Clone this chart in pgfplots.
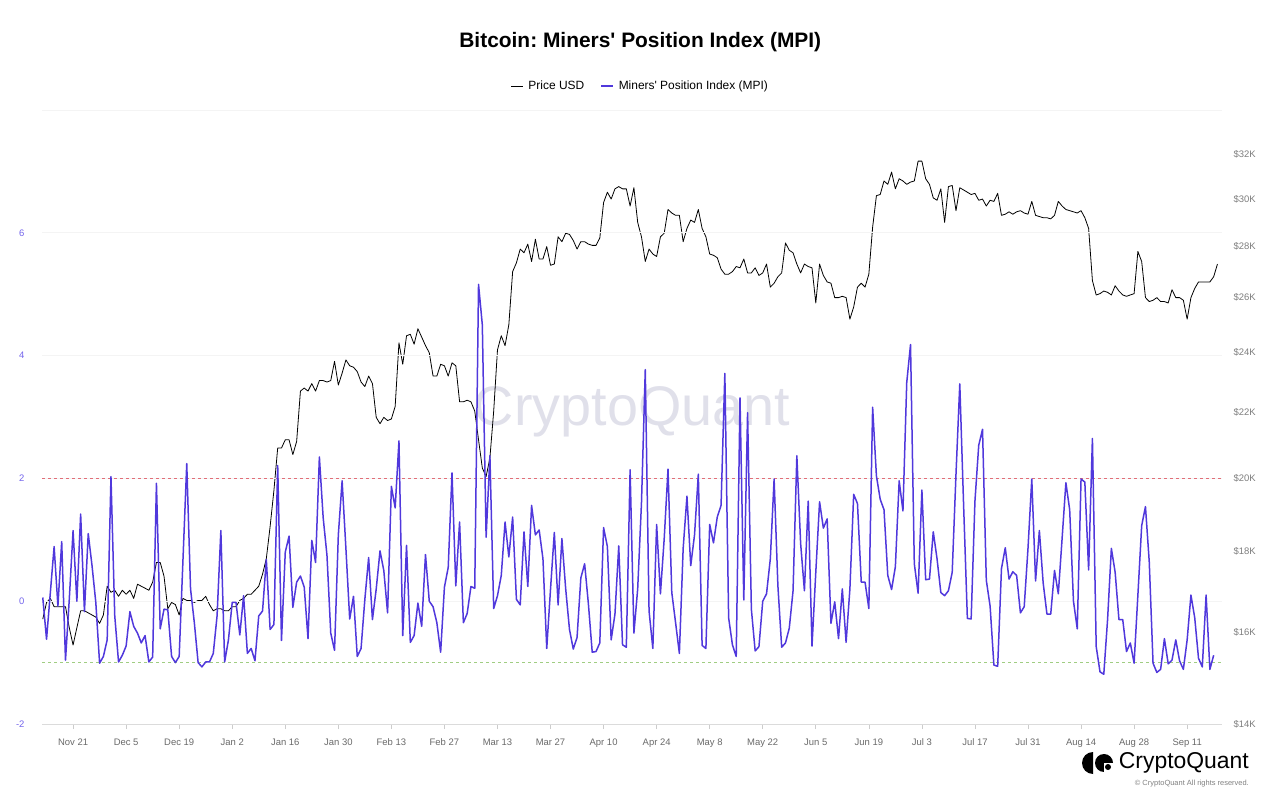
\documentclass[border=0pt]{standalone}
\usepackage{fontspec}
\setmainfont{Liberation Sans}
\usepackage{pgfplots}
\pgfplotsset{compat=1.18}
\frenchspacing

\definecolor{mpi}{RGB}{80,56,220}
\definecolor{mpitick}{RGB}{115,100,235}
\definecolor{pricetick}{RGB}{125,125,125}
\definecolor{datetick}{RGB}{105,105,105}
\definecolor{wmark}{RGB}{224,224,234}
\definecolor{hiline}{RGB}{225,110,120}
\definecolor{loline}{RGB}{160,205,130}

\newcommand{\ticksize}{\fontsize{9.5}{11}\selectfont}

\begin{document}
\begin{tikzpicture}
\useasboundingbox (-42bp,-82bp) rectangle (1238bp,724bp);

% right axis: price, log scale
\begin{axis}[
    scale only axis,
    width=1180bp, height=614bp,
    xmin=-8.2, xmax=303.2,
    ymode=log, ymin=14000, ymax=34150,
    hide x axis,
    axis y line*=right,
    axis line style={draw=none},
    ytick={14000,16000,18000,20000,22000,24000,26000,28000,30000,32000},
    yticklabels={\$14K,\$16K,\$18K,\$20K,\$22K,\$24K,\$26K,\$28K,\$30K,\$32K},
    yticklabel style={font=\ticksize, text=pricetick, xshift=8bp},
    ytick style={draw=none},
]
\node[font=\fontsize{56}{60}\selectfont, text=wmark] at (rel axis cs:0.5,0.508) {CryptoQuant};
\addplot[black, line width=0.8bp, line join=round, no markers] coordinates {
(-8,16300)(-7,16700)(-6,16800)(-5,16600)(-4,16600)(-3,16600)(-2,16600)(-1,16100)(0,15700)(1,16100)
(2,16500)(3,16500)(4,16450)(5,16400)(6,16350)(7,16200)(8,16400)(9,17100)(10,16950)(11,17000)
(12,16850)(13,17000)(14,16900)(15,17000)(16,16800)(17,17150)(18,17100)(19,17050)(20,17000)(21,17200)
(22,17700)(23,17700)(24,17350)(25,16550)(26,16700)(27,16650)(28,16400)(29,16800)(30,16750)(31,16750)
(32,16700)(33,16750)(34,16750)(35,16850)(36,16650)(37,16500)(38,16550)(39,16550)(40,16500)(41,16500)
(42,16600)(43,16600)(44,16750)(45,16800)(46,16900)(47,16900)(48,17000)(49,17100)(50,17400)(51,17800)
(52,18650)(53,19650)(54,20900)(55,20900)(56,21150)(57,21150)(58,20700)(59,21100)(60,22700)(61,22800)
(62,22700)(63,22950)(64,22700)(65,23050)(66,23050)(67,23000)(68,23050)(69,23700)(70,22900)(71,23300)
(72,23750)(73,23550)(74,23500)(75,23350)(76,23000)(77,22850)(78,23200)(79,22950)(80,21850)(81,21650)
(82,21850)(83,21750)(84,21800)(85,22200)(86,24350)(87,23600)(88,24600)(89,24650)(90,24300)(91,24850)
(92,24550)(93,24250)(94,24000)(95,23200)(96,23200)(97,23600)(98,23550)(99,23200)(100,23650)(101,23550)
(102,22350)(103,22350)(104,22400)(105,22350)(106,22050)(107,21150)(108,20300)(109,20050)(110,20600)(111,22050)
(112,24100)(113,24600)(114,24250)(115,25000)(116,27000)(117,27350)(118,27900)(119,27750)(120,28100)(121,27400)
(122,28300)(123,27500)(124,27500)(125,28000)(126,27250)(127,27300)(128,28400)(129,28200)(130,28550)(131,28500)
(132,28250)(133,27900)(134,28200)(135,28200)(136,28100)(137,28050)(138,28050)(139,28350)(140,29850)(141,30300)
(142,30000)(143,30450)(144,30550)(145,30450)(146,30450)(147,29700)(148,30500)(149,29000)(150,28400)(151,27400)
(152,27900)(153,27700)(154,27600)(155,28400)(156,28550)(157,29550)(158,29400)(159,29300)(160,29300)(161,28200)
(162,28750)(163,29100)(164,29000)(165,29550)(166,28750)(167,28400)(168,27700)(169,27650)(170,27550)(171,27100)
(172,26900)(173,26900)(174,27000)(175,27200)(176,27150)(177,27500)(178,26950)(179,26950)(180,27150)(181,26850)
(182,26950)(183,27300)(184,26400)(185,26550)(186,26800)(187,26950)(188,28150)(189,27850)(190,27750)(191,27300)
(192,26950)(193,27300)(194,27200)(195,27150)(196,25800)(197,27300)(198,26850)(199,26600)(200,26550)(201,26000)
(202,26000)(203,26050)(204,26000)(205,25200)(206,25650)(207,26400)(208,26550)(209,26400)(210,26900)(211,28800)
(212,30150)(213,30200)(214,30800)(215,30650)(216,31200)(217,30450)(218,30900)(219,30800)(220,30650)(221,30750)
(222,30800)(223,31700)(224,31700)(225,30900)(226,30650)(227,30050)(228,29950)(229,30450)(230,29000)(231,30550)
(232,30600)(233,29500)(234,30500)(235,30400)(236,30300)(237,30200)(238,30250)(239,29950)(240,30000)(241,29700)
(242,29950)(243,29900)(244,30250)(245,29300)(246,29350)(247,29450)(248,29350)(249,29450)(250,29500)(251,29400)
(252,29350)(253,29900)(254,29300)(255,29250)(256,29200)(257,29200)(258,29150)(259,29300)(260,29900)(261,29700)
(262,29550)(263,29500)(264,29450)(265,29400)(266,29500)(267,29200)(268,28750)(269,26650)(270,26100)(271,26150)
(272,26250)(273,26200)(274,26100)(275,26450)(276,26250)(277,26100)(278,26050)(279,26100)(280,26150)(281,27800)
(282,27400)(283,26000)(284,25850)(285,25900)(286,26000)(287,25850)(288,25850)(289,25800)(290,26300)(291,26000)
(292,26000)(293,25900)(294,25200)(295,26000)(296,26350)(297,26600)(298,26600)(299,26600)(300,26600)(301,26800)
(302,27300)
};
\end{axis}

% left axis: MPI
\begin{axis}[
    scale only axis,
    width=1180bp, height=614bp,
    xmin=-8.2, xmax=303.2,
    ymin=-2, ymax=8,
    axis x line*=bottom, axis y line*=left,
    axis line style={draw=none},
    xtick={0,14,...,294},
    xticklabels={Nov 21,Dec 5,Dec 19,Jan 2,Jan 16,Jan 30,Feb 13,Feb 27,Mar 13,Mar 27,Apr 10,Apr 24,May 8,May 22,Jun 5,Jun 19,Jul 3,Jul 17,Jul 31,Aug 14,Aug 28,Sep 11},
    xticklabel style={font=\ticksize, text=datetick, yshift=-5bp, text height=7.5bp, text depth=2bp},
    ytick={-2,0,2,4,6},
    yticklabels={-2,0,2,4,6},
    extra y ticks={8}, extra y tick labels={},
    yticklabel style={font=\ticksize, text=mpitick, xshift=-9bp},
    ymajorgrids,
    grid style={gray!9, line width=0.6bp},
    tick align=outside,
    major tick length=5bp,
    xtick style={draw=gray!40, line width=0.6bp},
    ytick style={draw=none},
    title={Bitcoin: Miners\textquotesingle\ Position Index (MPI)},
    title style={at={(0.507,1.101)}, anchor=center, font=\fontsize{21}{25}\selectfont\bfseries},
    legend style={at={(0.507,1.039)}, anchor=center, draw=none, fill=none,
        font=\fontsize{12}{14}\selectfont, /tikz/every even column/.append style={column sep=14bp}},
    legend columns=2,
    legend image code/.code={\draw[#1] (0bp,0bp) -- (12bp,0bp); \path (15bp,0bp);},
]
\draw[gray!28, line width=0.8bp] (rel axis cs:0,0) -- (rel axis cs:1,0);
\addplot[hiline, line width=0.6bp, dash pattern=on 3bp off 3bp, forget plot] coordinates {(-8.2,2) (303.2,2)};
\addplot[loline, line width=0.8bp, dash pattern=on 3bp off 3bp, forget plot] coordinates {(-8.2,-1) (303.2,-1)};
\addlegendimage{black, line width=0.8bp}
\addlegendentry{Price USD}
\addplot[mpi, line width=1.5bp, line join=round, no markers] coordinates {
(-8,0.06)(-7,-0.62)(-6,0.14)(-5,0.89)(-4,-0.08)(-3,0.97)(-2,-0.96)(-1,0.03)(0,1.15)(1,0.00)
(2,1.42)(3,-0.17)(4,1.10)(5,0.58)(6,-0.02)(7,-1.01)(8,-0.90)(9,-0.63)(10,2.03)(11,-0.24)
(12,-0.99)(13,-0.88)(14,-0.73)(15,-0.17)(16,-0.41)(17,-0.52)(18,-0.68)(19,-0.56)(20,-0.99)(21,-0.91)
(22,1.92)(23,-0.45)(24,-0.13)(25,-0.14)(26,-0.90)(27,-1.00)(28,-0.90)(29,0.67)(30,2.24)(31,0.20)
(32,-0.35)(33,-1.00)(34,-1.07)(35,-0.99)(36,-0.99)(37,-0.85)(38,-0.24)(39,1.15)(40,-0.99)(41,-0.63)
(42,-0.02)(43,-0.02)(44,-0.55)(45,0.09)(46,-0.85)(47,-0.77)(48,-0.97)(49,-0.24)(50,-0.16)(51,0.68)
(52,-0.46)(53,-0.38)(54,2.21)(55,-0.64)(56,0.80)(57,1.06)(58,-0.10)(59,0.31)(60,0.41)(61,0.23)
(62,-0.61)(63,0.99)(64,0.63)(65,2.35)(66,1.36)(67,0.75)(68,-0.52)(69,-0.80)(70,1.08)(71,1.96)
(72,0.86)(73,-0.29)(74,0.08)(75,-0.90)(76,-0.77)(77,0.03)(78,0.71)(79,-0.30)(80,0.20)(81,0.82)
(82,0.50)(83,-0.19)(84,1.87)(85,1.52)(86,2.61)(87,-0.56)(88,0.91)(89,-0.67)(90,-0.56)(91,-0.03)
(92,-0.41)(93,0.76)(94,0.00)(95,-0.09)(96,-0.35)(97,-0.83)(98,0.23)(99,0.55)(100,2.09)(101,0.25)
(102,1.29)(103,-0.35)(104,-0.20)(105,0.24)(106,0.21)(107,5.16)(108,4.50)(109,1.04)(110,2.37)(111,-0.12)
(112,0.09)(113,0.42)(114,1.29)(115,0.72)(116,1.37)(117,0.03)(118,-0.06)(119,1.13)(120,0.24)(121,1.56)
(122,1.08)(123,1.16)(124,0.69)(125,-0.77)(126,0.20)(127,1.12)(128,-0.06)(129,1.02)(130,0.20)(131,-0.46)
(132,-0.78)(133,-0.59)(134,0.38)(135,0.61)(136,-0.05)(137,-0.83)(138,-0.82)(139,-0.68)(140,1.20)(141,0.89)
(142,-0.63)(143,-0.21)(144,0.90)(145,-0.71)(146,-0.75)(147,2.14)(148,-0.52)(149,0.20)(150,1.60)(151,3.77)
(152,-0.16)(153,-0.77)(154,1.25)(155,0.12)(156,1.02)(157,2.15)(158,0.14)(159,-0.35)(160,-0.85)(161,0.86)
(162,1.71)(163,0.58)(164,1.08)(165,2.07)(166,-0.72)(167,-0.77)(168,1.25)(169,0.95)(170,1.37)(171,1.56)
(172,3.71)(173,-0.27)(174,-0.71)(175,-0.90)(176,3.31)(177,0.02)(178,3.07)(179,-0.13)(180,-0.81)(181,-0.74)
(182,0.00)(183,0.12)(184,0.69)(185,1.99)(186,0.25)(187,-0.75)(188,-0.68)(189,-0.44)(190,0.17)(191,2.37)
(192,0.94)(193,0.17)(194,1.63)(195,-0.73)(196,0.47)(197,1.62)(198,1.19)(199,1.34)(200,-0.36)(201,-0.01)
(202,-0.61)(203,0.20)(204,-0.67)(205,0.20)(206,1.74)(207,1.59)(208,0.31)(209,0.31)(210,-0.12)(211,3.16)
(212,2.04)(213,1.66)(214,1.49)(215,0.42)(216,0.19)(217,0.56)(218,1.96)(219,1.47)(220,3.56)(221,4.18)
(222,0.61)(223,0.13)(224,1.81)(225,0.35)(226,0.36)(227,1.13)(228,0.69)(229,0.14)(230,0.09)(231,0.17)
(232,0.47)(233,2.07)(234,3.54)(235,1.58)(236,-0.28)(237,-0.29)(238,1.63)(239,2.54)(240,2.80)(241,0.34)
(242,-0.08)(243,-1.04)(244,-1.06)(245,0.53)(246,0.87)(247,0.36)(248,0.48)(249,0.42)(250,-0.19)(251,-0.09)
(252,0.86)(253,1.99)(254,0.33)(255,1.15)(256,0.30)(257,-0.21)(258,-0.21)(259,0.50)(260,0.12)(261,1.02)
(262,1.93)(263,1.49)(264,0.00)(265,-0.45)(266,1.99)(267,1.94)(268,0.51)(269,2.65)(270,-0.74)(271,-1.15)
(272,-1.19)(273,-0.30)(274,0.86)(275,0.47)(276,-0.30)(277,-0.30)(278,-0.82)(279,-0.68)(280,-1.01)(281,0.10)
(282,1.23)(283,1.54)(284,0.64)(285,-1.01)(286,-1.16)(287,-1.11)(288,-0.61)(289,-1.02)(290,-0.96)(291,-0.63)
(292,-0.97)(293,-1.11)(294,-0.63)(295,0.10)(296,-0.27)(297,-0.93)(298,-1.07)(299,0.10)(300,-1.11)(301,-0.88)
};
\addlegendentry{Miners\textquotesingle\ Position Index (MPI)}
\end{axis}

% CryptoQuant mark, bottom right
\fill (1051bp,-28bp) arc[start angle=90, end angle=270, radius=11bp] -- cycle;
\fill (1062bp,-39bp) circle[radius=9bp];
\fill[white] (1062bp,-39bp) -- (1072bp,-39bp) -- (1072bp,-49bp) -- (1062bp,-49bp) -- cycle;
\fill (1066bp,-43bp) circle[radius=3bp];
\node[anchor=east, inner sep=0pt, font=\fontsize{23}{26}\selectfont] at (1207bp,-39bp) {CryptoQuant};
\node[anchor=east, inner sep=0pt, font=\fontsize{7.5}{9}\selectfont, text=gray] at (1207bp,-60bp) {© CryptoQuant All rights reserved.};
\end{tikzpicture}
\end{document}
